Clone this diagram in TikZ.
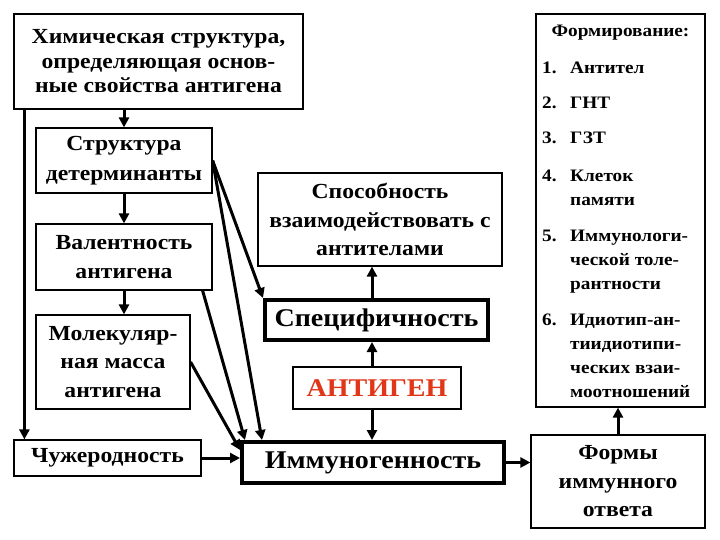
\documentclass[tikz,border=0pt]{standalone}
\usepackage{fontspec}
\setmainfont[FakeStretch=1.1]{Liberation Serif}
\usetikzlibrary{arrows.meta,positioning,calc}
\definecolor{ink}{RGB}{0,0,0}
\definecolor{flame}{RGB}{225,55,25}
\tikzset{
  >={Triangle[length=10pt,width=10pt]},
  box/.style={draw=ink,line width=1.2pt,align=center,inner sep=1pt,
    font=\fontsize{21.5}{28.5}\selectfont\bfseries},
  bold box/.style={box,line width=4pt,font=\fontsize{25.5}{30}\selectfont\bfseries},
  flow/.style={->,line width=3pt,draw=ink},
  item/.style={anchor=north west,align=left,inner sep=0pt,
    font=\fontsize{17.5}{24}\selectfont\bfseries},
}

\begin{document}
\begin{tikzpicture}[x=1pt,y=-1pt]
  \useasboundingbox[fill=white] (0,0) rectangle (720,540);
  % left column
  \node[box,minimum width=289pt,minimum height=95pt,font=\fontsize{21.5}{24.5}\selectfont\bfseries] (chem) at (158.5,61.5) {Химическая структура,\\определяющая основ-\\ные свойства антигена};
  \node[box,minimum width=176pt,minimum height=65pt,font=\fontsize{21.5}{30}\selectfont\bfseries] (det) at (124,160.5) {Структура\\детерминанты};
  \node[box,minimum width=176pt,minimum height=66pt] (val) at (124,257) {Валентность\\антигена};
  \node[box,minimum width=154pt,minimum height=94pt] (mol) at (113,362) {Молекуляр-\\ная масса\\антигена};
  \node[box,minimum width=187pt,minimum height=36pt] (alien) at (107.5,458) {Чужеродность};
  % middle column
  \node[box,minimum width=244pt,minimum height=93pt] (abil) at (380,219.5) {Способность\\взаимодействовать с\\антителами};
  \node[bold box,minimum width=223pt,minimum height=40pt] (spec) at (376.5,320) {Специфичность};
  \node[box,line width=2.5pt,minimum width=168pt,minimum height=42pt,text=flame,font=\fontsize{25.5}{30}\selectfont\bfseries] (antigen) at (377,388) {АНТИГЕН};
  \node[bold box,minimum width=262pt,minimum height=41pt] (immun) at (373,462.5) {Иммуногенность};
  % right column
  \node[box,minimum width=169pt,minimum height=393pt] (form) at (620.5,210.5) {};
  \node[item,anchor=center] (formhead) at (620.5,33) {Формирование:};
  \foreach \n/\t/\y [count=\i] in {1./Антител/68, 2./ГНТ/103, 3./ГЗТ/138,
      4./Клеток\\памяти/176, 5./Иммунологи-\\ческой толе-\\рантности/236,
      6./Идиотип-ан-\\тиидиотипи-\\ческих взаи-\\моотношений/320}
  {
    \node[item] (num\i) at (542,\y-6.5) {\n};
    \node[item] (item\i) at (570,\y-6.5) {\t};
  }
  \node[box,minimum width=174pt,minimum height=93pt] (forms) at (618,481.5) {Формы\\иммунного\\ответа};

  % connectors
  \draw[flow] ([xshift=11pt]chem.south west) -- ([xshift=11pt]alien.north west);
  \draw[flow] (chem.south -| det.north) -- (det.north);
  \draw[flow] (det.south) -- (val.north);
  \draw[flow] (val.south) -- (val.south |- mol.north);
  \draw[flow] (alien.east) -- (alien.east -| immun.west);
  \draw[flow] (det.east) -- (spec.north west);
  \draw[flow] (det.east) -- ([xshift=22pt]immun.north west);
  \draw[flow] ([xshift=-10pt]val.south east) -- ([xshift=5pt]immun.north west);
  \draw[flow] (mol.east) -- ([yshift=-10pt]immun.north west);
  \draw[flow] ([xshift=-5pt]antigen.north) -- ([xshift=-5pt]antigen.north |- spec.south);
  \draw[flow] ([xshift=-5pt]antigen.south) -- ([xshift=-5pt]antigen.south |- immun.north);
  \draw[flow] ([xshift=-5pt]antigen.north |- spec.north) -- ([xshift=-5pt]antigen.north |- abil.south);
  \draw[flow] (immun.east) -- (immun.east -| forms.west);
  \draw[flow] (forms.north) -- (forms.north |- form.south);
\end{tikzpicture}
\end{document}
